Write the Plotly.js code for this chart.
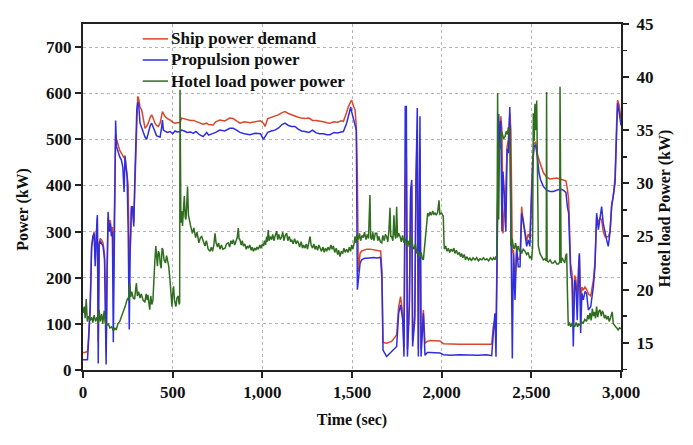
<!DOCTYPE html>
<html>
<head>
<meta charset="utf-8">
<script src="https://cdn.plot.ly/plotly-3.0.1.min.js"></script>
<style>
  html, body { margin: 0; padding: 0; background: #fff; }
  #chart { width: 693px; height: 445px; }
</style>
</head>
<body>
<div id="chart"></div>
<script>
// time axis for the two power series (sec)
var powerTime = [0,10,25,30,40,48,55,62,68,75,
  80,85,90,96,104,112,120,125,129,134,
  140,146,152,158,164,169,174,178,182,187,
  196,205,214,222,229,234,240,246,252,258,
  263,270,276,283,289,294,300,305,310,318,
  327,336,346,355,364,375,383,392,401,410,
  420,430,438,443,448,457,470,485,500,513,
  525,541,550,565,580,600,615,630,650,670,
  690,700,726,740,763,790,819,838,856,875,
  900,931,960,990,1006,1015,1030,1050,1070,1089,
  1110,1126,1145,1163,1182,1200,1219,1238,1260,1280,
  1300,1320,1340,1360,1377,1400,1420,1440,1452,1470,
  1480,1493,1498,1510,1517,1524,1530,1535,1545,1554,
  1570,1582,1600,1620,1640,1656,1660,1667,1673,1693,
  1721,1749,1760,1771,1783,1790,1797,1803,1809,1820,
  1827,1833,1838,1850,1857,1864,1870,1879,1885,1898,
  1907,1920,1935,1960,1990,2010,2050,2100,2150,2200,
  2250,2279,2288,2297,2303,2312,2318,2324,2330,2336,
  2342,2350,2358,2365,2372,2380,2386,2394,2400,2409,
  2418,2427,2437,2446,2455,2465,2474,2483,2492,2502,
  2507,2515,2524,2533,2543,2552,2567,2585,2604,2623,
  2641,2660,2678,2693,2701,2708,2719,2727,2734,2742,
  2749,2756,2764,2768,2775,2782,2790,2799,2808,2818,
  2831,2846,2855,2864,2874,2883,2892,2901,2911,2920,
  2929,2939,2948,2957,2967,2976,2981,2989,2994,3000];

// propulsion power (kW)
var propulsionKW = [22,22,22,55,130,265,290,296,225,300,
  336,14,270,280,275,268,240,150,12,200,
  343,300,318,290,300,60,300,480,541,484,
  470,462,455,440,386,462,440,418,300,88,
  253,354,354,311,412,485,564,580,578,535,
  525,517,505,500,515,530,535,525,517,508,
  506,505,525,542,520,518,515,517,512,518,
  516,517,520,518,515,516,513,517,510,506,
  515,509,512,515,520,518,524,524,520,515,
  512,510,513,512,500,505,515,518,520,524,
  532,535,530,528,528,522,518,517,515,520,
  514,512,512,510,510,515,514,516,517,535,
  553,570,560,540,528,520,174,195,231,239,
  242,242,243,244,243,244,242,195,43,29,
  40,51,123,141,108,29,571,571,29,137,
  390,412,51,108,412,568,29,550,29,123,
  32,38,38,38,37,33,32,33,32,32,
  33,31,80,123,29,450,555,480,540,300,
  430,380,300,480,470,570,350,25,253,152,
  268,224,224,340,325,296,268,282,268,383,
  450,484,488,463,427,412,398,390,387,387,
  390,392,390,385,354,340,210,195,51,195,
  181,108,220,253,80,166,152,170,166,130,
  137,181,224,340,304,325,354,318,296,282,
  268,300,354,376,405,521,578,560,540,530];

// ship power demand (kW)
var shipDemandKW = [38,38,40,65,140,270,285,300,240,305,
  330,60,275,285,282,275,250,170,40,210,
  330,310,325,300,310,200,320,470,510,500,
  485,476,470,465,460,465,445,433,400,230,
  260,350,350,320,410,480,575,593,589,570,
  564,540,524,528,535,548,553,545,535,530,
  528,535,552,560,556,550,545,542,537,535,
  536,536,546,544,542,541,541,539,535,533,
  535,532,531,538,542,540,546,545,540,535,
  538,536,538,540,535,528,545,548,550,553,
  558,560,556,553,550,548,546,545,546,541,
  541,540,538,536,535,538,537,540,539,558,
  571,582,585,570,564,528,420,213,253,258,
  260,262,262,260,259,258,258,215,60,58,
  62,76,137,159,120,50,380,460,45,150,
  380,400,65,120,420,520,45,480,45,130,
  58,62,64,64,63,57,56,56,56,56,
  55,56,94,109,80,300,540,500,550,520,
  296,340,400,485,500,557,520,253,260,195,
  253,240,240,354,318,300,280,295,285,400,
  450,490,495,470,455,445,428,418,414,415,
  416,414,412,410,392,370,230,210,120,205,
  195,150,230,250,140,180,173,180,175,165,
  160,195,235,330,320,330,325,300,289,289,
  289,300,360,376,420,540,585,575,560,545];

// time axis for the hotel load series (sec)
var hotelTime = [0,7,12,18,24,32,40,48,55,62,
  70,78,85,90,96,104,110,118,124,132,
  140,150,160,170,178,185,195,205,215,225,
  235,243,250,256,261,266,272,280,288,294,
  298,303,310,318,325,335,345,352,358,362,
  368,372,378,384,390,396,401,406,410,415,
  420,426,431,436,441,445,452,460,466,472,
  478,485,490,496,500,505,510,518,524,531,
  536,539,541,544,546,550,555,560,565,570,
  574,578,583,588,592,600,610,618,628,636,
  646,655,662,670,680,688,698,708,716,722,
  730,736,742,750,756,764,772,780,792,800,
  810,818,825,832,838,846,852,860,866,870,
  875,882,888,894,902,910,916,922,930,938,
  944,950,958,964,970,978,986,992,1000,1006,
  1012,1018,1024,1028,1033,1038,1045,1052,1058,1065,
  1072,1080,1086,1092,1100,1108,1114,1120,1128,1136,
  1142,1150,1158,1164,1172,1180,1188,1195,1201,1208,
  1216,1224,1230,1238,1245,1252,1260,1266,1272,1280,
  1287,1294,1300,1308,1315,1322,1330,1338,1345,1352,
  1359,1366,1374,1382,1389,1396,1404,1412,1420,1426,
  1433,1440,1448,1455,1462,1470,1478,1485,1492,1498,
  1505,1512,1517,1522,1528,1535,1542,1548,1556,1563,
  1570,1578,1585,1592,1600,1604,1610,1616,1622,1630,
  1638,1644,1650,1658,1666,1672,1680,1686,1693,1700,
  1706,1712,1716,1721,1728,1734,1738,1744,1749,1754,
  1760,1768,1775,1782,1790,1798,1805,1812,1820,1826,
  1833,1840,1846,1854,1861,1868,1874,1879,1886,1892,
  1898,1902,1907,1912,1916,1922,1928,1935,1942,1950,
  1956,1963,1970,1978,1985,1990,1999,2005,2009,2013,
  2015,2022,2030,2037,2045,2052,2060,2068,2074,2082,
  2090,2098,2105,2111,2118,2126,2133,2140,2150,2158,
  2166,2175,2186,2195,2205,2214,2224,2233,2242,2252,
  2262,2272,2282,2290,2297,2303,2307,2310,2312,2315,
  2318,2322,2327,2332,2338,2345,2353,2360,2366,2372,
  2378,2381,2384,2386,2390,2394,2400,2405,2412,2420,
  2427,2434,2440,2446,2455,2465,2474,2482,2490,2497,
  2502,2507,2511,2516,2520,2525,2530,2533,2536,2539,
  2548,2556,2567,2576,2583,2585,2588,2595,2605,2614,
  2623,2632,2642,2651,2658,2660,2663,2666,2672,2678,
  2686,2692,2697,2701,2706,2712,2720,2727,2734,2742,
  2750,2758,2764,2771,2780,2789,2798,2808,2815,2821,
  2827,2834,2840,2846,2852,2858,2864,2870,2877,2883,
  2890,2896,2901,2908,2914,2920,2928,2934,2939,2946,
  2951,2957,2964,2970,2976,2984,2992,3000];

// hotel load power (kW, right axis)
var hotelKW = [17.8,18.4,17.3,19.1,17.0,17.5,17.1,17.4,16.9,17.6,
  17.0,17.4,16.8,18.1,17.0,17.7,16.8,18.0,16.9,16.6,
  16.8,16.4,16.5,16.1,16.4,16.2,16.8,17.0,17.5,17.9,
  18.4,18.9,19.2,19.0,20.6,19.3,19.8,19.2,19.1,20.1,
  20.6,19.4,19.8,19.2,19.6,19.0,18.8,19.6,19.0,19.5,
  18.4,18.1,19.4,18.6,19.0,21.6,22.8,24.1,22.6,22.2,
  23.6,23.4,22.4,22.0,23.9,23.8,22.8,22.5,23.2,22.6,
  22.2,20.9,19.5,18.4,19.6,20.3,19.0,18.4,19.2,19.4,
  18.6,18.8,38.8,27.0,26.3,27.4,26.0,27.5,28.8,26.8,
  26.6,27.8,29.7,27.0,26.6,26.0,25.3,25.8,24.9,25.4,
  24.4,24.9,25.0,24.5,24.1,24.6,23.8,23.6,24.0,23.6,
  24.2,25.3,24.4,24.0,24.4,23.8,24.2,23.8,23.9,24.3,
  24.4,24.0,24.6,24.3,24.7,24.2,24.5,24.9,25.8,24.8,
  24.7,24.2,24.6,24.1,24.3,23.8,24.1,23.9,24.2,23.7,
  24.0,23.6,23.9,23.7,24.0,23.8,24.2,23.9,24.3,24.1,
  24.6,24.2,25.0,24.5,25.6,24.6,25.0,24.7,25.2,24.6,
  25.1,25.5,24.7,25.2,24.7,25.0,25.4,24.6,25.1,25.3,
  24.6,25.0,24.5,24.7,24.3,24.8,24.3,24.6,24.4,24.0,
  24.5,23.9,24.2,23.9,24.3,23.8,24.5,25.0,24.2,23.9,
  24.3,23.8,24.1,23.7,24.2,23.9,23.6,24.0,23.5,23.9,
  23.6,24.0,23.7,24.2,23.8,24.1,23.5,23.9,23.3,23.7,
  23.1,23.6,23.4,23.9,23.5,23.8,23.5,24.0,23.6,24.2,
  23.8,24.4,25.0,24.4,25.2,24.7,25.3,24.6,25.1,24.9,
  25.4,24.7,25.2,24.8,28.9,24.9,24.7,25.4,24.6,25.3,
  25.3,24.6,25.0,24.5,24.4,25.1,24.6,25.2,25.0,24.5,
  25.6,27.7,25.0,25.0,24.6,27.0,25.2,24.8,27.8,24.9,
  25.3,25.0,24.5,25.1,24.4,24.8,24.1,24.6,24.0,25.0,
  24.7,24.0,23.8,24.3,23.4,23.6,23.2,23.1,23.5,22.9,
  22.8,23.6,24.2,25.4,26.3,27.2,26.9,27.3,27.0,27.4,
  27.1,27.2,27.0,27.3,28.4,27.1,27.2,27.0,26.9,24.5,
  23.8,24.1,23.6,23.9,23.5,23.8,23.6,23.9,23.4,23.7,
  23.3,23.5,23.1,23.4,23.0,23.3,22.8,23.1,22.8,23.0,
  22.7,23.0,22.8,23.0,22.7,22.9,22.8,23.0,22.8,22.9,
  22.7,23.0,22.8,23.0,22.8,23.1,23.1,30.0,38.5,30.0,
  26.6,33.0,34.1,34.9,34.7,34.2,34.4,34.9,34.6,35.3,
  35.0,34.7,29.0,24.1,24.8,24.7,24.0,23.8,24.4,23.7,
  24.1,23.6,23.8,23.4,23.8,23.6,23.3,23.5,23.0,23.1,
  22.8,24.0,36.6,34.0,37.5,35.0,37.8,33.5,28.0,24.1,
  23.4,23.1,22.8,22.9,22.7,38.6,22.7,22.6,22.8,22.5,
  22.5,22.7,22.4,22.4,22.6,39.1,22.6,22.5,23.0,22.8,
  22.5,23.2,23.4,20.0,16.6,16.9,16.5,16.8,16.7,16.5,
  16.9,16.5,16.8,16.6,17.0,16.8,17.2,17.0,17.6,17.2,
  17.8,17.1,18.2,17.5,17.9,17.3,18.4,17.4,18.0,18.1,
  17.5,18.0,17.8,17.3,17.6,17.2,17.5,17.0,17.2,17.5,
  17.9,16.8,16.6,16.5,16.4,16.2,16.4,16.3];

var xTicks = [0, 500, 1000, 1500, 2000, 2500, 3000];
var powerTicks = [0, 100, 200, 300, 400, 500, 600, 700];
var hotelTicks = [15, 20, 25, 30, 35, 40, 45];

var seriesNames = ['Ship power demand', 'Propulsion power', 'Hotel load power power'];
var seriesColors = ['#d9472d', '#2e2ee0', '#2f6e1f'];

var serif = 'Liberation Serif, Times New Roman, serif';
var boldFont = {family: serif, size: 16, color: '#111', weight: 'bold'};
var tickFont = {family: serif, size: 17, color: '#111', weight: 'bold'};
var legendFont = {family: serif, size: 17, color: '#111', weight: 'bold'};

var traces = [
  {x: powerTime, y: shipDemandKW, name: seriesNames[0], type: 'scatter', mode: 'lines',
   line: {color: seriesColors[0], width: 1.5}},
  {x: powerTime, y: propulsionKW, name: seriesNames[1], type: 'scatter', mode: 'lines',
   line: {color: seriesColors[1], width: 1.5}},
  {x: hotelTime, y: hotelKW, name: seriesNames[2], type: 'scatter', mode: 'lines',
   yaxis: 'y2', line: {color: seriesColors[2], width: 1.5}}
];

// legend drawn by hand so the rows sit as tight as in the figure
var legendRows = [0.957, 0.896, 0.835];
var shapes = [];
var annotations = [
  {text: 'Power (kW)', xref: 'paper', yref: 'paper', x: -0.112, y: 0.465,
   textangle: -90, showarrow: false, font: boldFont, xanchor: 'center', yanchor: 'middle'},
  {text: 'Hotel load Power (kW)', xref: 'paper', yref: 'paper', x: 1.082, y: 0.465,
   textangle: -90, showarrow: false, font: boldFont, xanchor: 'center', yanchor: 'middle'}
];
for (var i = 0; i < seriesNames.length; i++) {
  shapes.push({type: 'line', xref: 'paper', yref: 'paper', x0: 0.111, x1: 0.158,
               y0: legendRows[i], y1: legendRows[i], line: {color: seriesColors[i], width: 1.5}});
  annotations.push({text: seriesNames[i], xref: 'paper', yref: 'paper', x: 0.160, y: legendRows[i],
                    xanchor: 'left', yanchor: 'middle', showarrow: false, font: legendFont});
}

var layout = {
  width: 693, height: 445,
  margin: {l: 83, r: 72, t: 24, b: 75},
  paper_bgcolor: '#fff', plot_bgcolor: '#fff',
  font: boldFont,
  showlegend: false,
  xaxis: {
    range: [0, 3000], tickvals: xTicks, tickformat: ',',
    showline: true, linecolor: '#222', linewidth: 2, mirror: true,
    ticks: 'outside', ticklen: 6, tickwidth: 2, tickcolor: '#222',
    showgrid: true, gridcolor: '#b5b5b5', griddash: 'dot', gridwidth: 1,
    zeroline: false, tickfont: tickFont,
    title: {text: 'Time (sec)', font: boldFont, standoff: 12}
  },
  yaxis: {
    range: [0, 750], tickvals: powerTicks,
    showline: true, linecolor: '#222', linewidth: 2,
    ticks: 'outside', ticklen: 6, tickwidth: 2, tickcolor: '#222',
    showgrid: true, gridcolor: '#b5b5b5', griddash: 'dot', gridwidth: 1,
    zeroline: false, tickfont: tickFont
  },
  yaxis2: {
    range: [12.43, 45], tickvals: hotelTicks, overlaying: 'y', side: 'right',
    showline: true, linecolor: '#222', linewidth: 2,
    ticks: 'outside', ticklen: 6, tickwidth: 2, tickcolor: '#222', ticklabelstandoff: 4,
    minor: {dtick: 2.5, tick0: 12.5, ticks: 'outside', ticklen: 4, tickwidth: 1.5, tickcolor: '#222'},
    showgrid: false, zeroline: false, tickfont: tickFont
  },
  shapes: shapes,
  annotations: annotations
};

Plotly.newPlot('chart', traces, layout, {displayModeBar: false, staticPlot: true});
</script>
</body>
</html>
